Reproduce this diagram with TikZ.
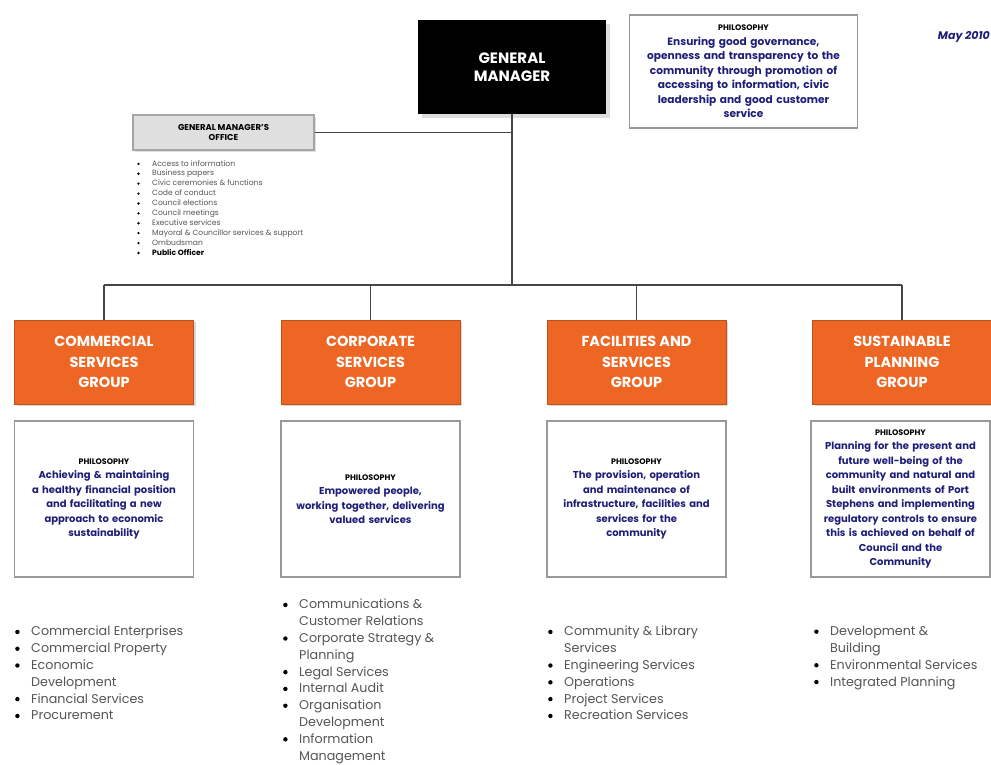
\documentclass[tikz,border=0pt]{standalone}
\usepackage{fontspec}
\setmainfont{Poppins}
\usetikzlibrary{shadows}
\definecolor{orangec}{RGB}{238,102,36}
\definecolor{navy}{RGB}{30,30,120}
\definecolor{listgray}{RGB}{85,85,85}
\definecolor{linegray}{RGB}{70,70,70}
\tikzset{
  conn/.style={draw=linegray, line width=1.8pt},
  grp/.style={fill=orangec, draw=orangec!80!black, line width=1pt, minimum width=179pt, minimum height=84pt,
    text=white, align=center, font=\bfseries\fontsize{14.5}{20.5}\selectfont,
    drop shadow={shadow xshift=2pt, shadow yshift=-2pt, fill=gray!60}},
  phil/.style={draw=gray!80, line width=1.5pt, fill=white, minimum width=178pt, minimum height=156pt,
    align=center, text width=172pt, text=navy, font=\bfseries\fontsize{10}{14.5}\selectfont},
  lst/.style={anchor=north west, align=left, text=listgray, font=\fontsize{12.7}{16.8}\selectfont, inner sep=0pt},
}
\newcommand{\bl}{\makebox[16pt][l]{\raisebox{0.25ex}{\tikz\fill[black] (0,0) circle (2.2pt);}}}
\newcommand{\ct}{\makebox[16pt][l]{}}
\newcommand{\phh}[1]{{\color{black}\fontsize{8}{14.5}\selectfont #1}}
\newcommand{\sbl}{\makebox[15pt][l]{\raisebox{0.2ex}{\tikz\fill[black] (0,0) circle (1.3pt);}}}
\begin{document}
\begin{tikzpicture}[x=1pt, y=-1pt]
\useasboundingbox (0,0) rectangle (991,765);
\fill[white] (0,0) rectangle (991,765);

% General manager
\node[fill=black, minimum width=188pt, minimum height=94pt, text=white, align=center,
  font=\bfseries\fontsize{15}{18}\selectfont,
  drop shadow={shadow xshift=4pt, shadow yshift=-4pt, fill=gray!50}] (gm) at (512,67) {GENERAL\\MANAGER};

% top philosophy
\node[draw=gray!80, line width=1.5pt, fill=white, minimum width=225pt, minimum height=113pt, align=center,
  text width=221pt, text=navy, font=\bfseries\fontsize{10.6}{14.5}\selectfont] (tphil) at (743.5,71.5)
  {\phh{PHILOSOPHY}\\Ensuring good governance,\\openness and transparency to the\\community through promotion of\\accessing to information, civic\\leadership and good customer\\service};

\node[text=navy, font=\bfseries\itshape\fontsize{11}{13}\selectfont, anchor=east, inner sep=0pt] (date) at (990,37) {May 2010};

% GM office
\node[fill=gray!25, draw=gray!70, line width=1.2pt, minimum width=181pt, minimum height=35pt, align=center,
  font=\bfseries\fontsize{8.5}{10}\selectfont,
  drop shadow={shadow xshift=2pt, shadow yshift=-2pt, fill=gray!50}] (gmo) at (223.5,132.5) {GENERAL MANAGER'S\\OFFICE};
\node[anchor=north west, align=left, inner sep=0pt, text=listgray, font=\fontsize{7.6}{9.9}\selectfont] (gmol) at (137,160)
{\sbl Access to information\\
 \sbl Business papers\\
 \sbl Civic ceremonies \& functions\\
 \sbl Code of conduct\\
 \sbl Council elections\\
 \sbl Council meetings\\
 \sbl Executive services\\
 \sbl Mayoral \& Councillor services \& support\\
 \sbl Ombudsman\\
 \sbl \textcolor{black}{\bfseries Public Officer}};

% groups
\node[grp] (g1) at (104,362) {COMMERCIAL\\SERVICES\\GROUP};
\node[grp] (g2) at (370.5,362) {CORPORATE\\SERVICES\\GROUP};
\node[grp] (g3) at (636.5,362) {FACILITIES AND\\SERVICES\\GROUP};
\node[grp] (g4) at (902,362) {SUSTAINABLE\\PLANNING\\GROUP};

% philosophy boxes
\node[phil] (p1) at (104,499) {\phh{PHILOSOPHY}\\Achieving \& maintaining\\a healthy financial position\\and facilitating a new\\approach to economic\\sustainability};
\node[phil] (p2) at (370.5,499) {\phh{PHILOSOPHY}\\Empowered people,\\working together, delivering\\valued services};
\node[phil] (p3) at (636.5,499) {\phh{PHILOSOPHY}\\The provision, operation\\and maintenance of\\infrastructure, facilities and\\services for the\\community};
\node[phil] (p4) at (900.5,499) {\phh{PHILOSOPHY}\\Planning for the present and\\future well-being of the\\community and natural and\\built environments of Port\\Stephens and implementing\\regulatory controls to ensure\\this is achieved on behalf of\\Council and the\\Community};

% lists
\node[lst] (l1) at (15,626) {\bl Commercial Enterprises\\\bl Commercial Property\\\bl Economic\\\ct Development\\\bl Financial Services\\\bl Procurement};
\node[lst] (l2) at (283,599) {\bl Communications \&\\\ct Customer Relations\\\bl Corporate Strategy \&\\\ct Planning\\\bl Legal Services\\\bl Internal Audit\\\bl Organisation\\\ct Development\\\bl Information\\\ct Management};
\node[lst] (l3) at (548,626) {\bl Community \& Library\\\ct Services\\\bl Engineering Services\\\bl Operations\\\bl Project Services\\\bl Recreation Services};
\node[lst] (l4) at (814,626) {\bl Development \&\\\ct Building\\\bl Environmental Services\\\bl Integrated Planning};

% connectors
\coordinate (bus) at (512,285);
\draw[conn] (gm.south) -- (bus);
\draw[conn] (gmo.east) -- (gmo.east -| gm.south);
\draw[conn] (g1.north |- bus) -- (g4.north |- bus);
\draw[conn] (g1.north |- bus) -- (g1.north);
\draw[conn] (g2.north |- bus) -- (g2.north);
\draw[conn] (g3.north |- bus) -- (g3.north);
\draw[conn] (g4.north |- bus) -- (g4.north);
\end{tikzpicture}
\end{document}
